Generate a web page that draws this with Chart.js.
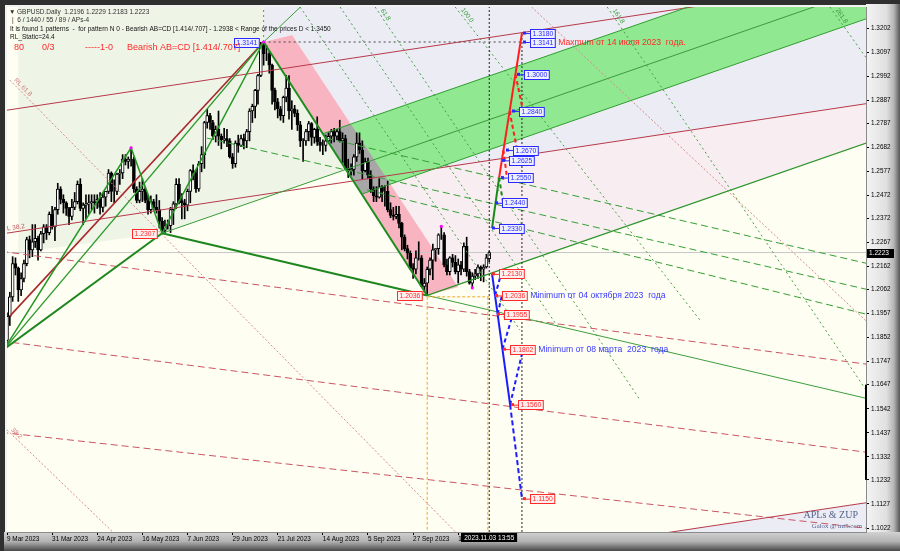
<!DOCTYPE html>
<html>
<head>
<meta charset="utf-8">
<script src="https://cdn.jsdelivr.net/npm/chart.js@4.4.1/dist/chart.umd.min.js"></script>
<style>
  html, body { margin: 0; padding: 0; background: #303030; }
  #wrap { width: 900px; height: 551px; }
</style>
</head>
<body>
<div id="wrap"><canvas id="chart" width="900" height="551"></canvas></div>
<script>
const FONT = "'Liberation Sans', Arial, sans-serif";

// GBPUSD daily bars, 9 Mar 2023 .. 3 Nov 2023 (bar index 0..171)
const OPEN = [
  1.1840,1.1945,1.2030,1.2175,1.2155,1.2060,1.2110,1.2175,1.2280,1.2235,
  1.2270,1.2285,1.2235,1.2305,1.2335,1.2310,1.2390,1.2335,1.2410,1.2500,
  1.2455,1.2440,1.2415,1.2380,1.2420,1.2445,1.2520,1.2415,1.2430,1.2435,
  1.2440,1.2445,1.2440,1.2455,1.2420,1.2465,1.2490,1.2570,1.2490,1.2490,
  1.2565,1.2570,1.2630,1.2620,1.2630,1.2630,1.2500,1.2450,1.2490,1.2500,
  1.2450,1.2410,1.2445,1.2420,1.2410,1.2360,1.2320,1.2340,1.2340,1.2410,
  1.2435,1.2520,1.2450,1.2440,1.2430,1.2490,1.2580,1.2570,1.2500,1.2610,
  1.2650,1.2790,1.2820,1.2790,1.2730,1.2760,1.2730,1.2715,1.2720,1.2710,
  1.2640,1.2610,1.2700,1.2690,1.2720,1.2710,1.2750,1.2840,1.2860,1.2930,
  1.2995,1.3130,1.3090,1.3090,1.3040,1.2930,1.2880,1.2850,1.2820,1.2900,
  1.2940,1.2840,1.2850,1.2830,1.2780,1.2710,1.2710,1.2750,1.2785,1.2725,
  1.2760,1.2705,1.2690,1.2690,1.2710,1.2730,1.2750,1.2730,1.2750,1.2710,
  1.2720,1.2590,1.2580,1.2585,1.2640,1.2700,1.2670,1.2580,1.2620,1.2560,
  1.2500,1.2470,1.2465,1.2510,1.2490,1.2490,1.2410,1.2385,1.2380,1.2390,
  1.2350,1.2290,1.2240,1.2220,1.2155,1.2150,1.2200,1.2200,1.2075,1.2090,
  1.2150,1.2190,1.2235,1.2240,1.2300,1.2300,1.2170,1.2140,1.2200,1.2180,
  1.2140,1.2170,1.2150,1.2250,1.2140,1.2090,1.2120,1.2130,1.2160,1.2150,
  1.2160,1.2196
];
const HIGH = [
  1.1960,1.2050,1.2205,1.2200,1.2160,1.2135,1.2190,1.2290,1.2295,1.2345,
  1.2345,1.2295,1.2315,1.2345,1.2345,1.2400,1.2425,1.2420,1.2525,1.2510,
  1.2475,1.2445,1.2420,1.2455,1.2485,1.2535,1.2545,1.2440,1.2475,1.2475,
  1.2475,1.2475,1.2475,1.2485,1.2485,1.2490,1.2585,1.2575,1.2540,1.2570,
  1.2585,1.2650,1.2650,1.2640,1.2680,1.2640,1.2510,1.2530,1.2545,1.2510,
  1.2475,1.2470,1.2455,1.2475,1.2450,1.2375,1.2365,1.2365,1.2420,1.2445,
  1.2545,1.2545,1.2480,1.2455,1.2500,1.2585,1.2605,1.2585,1.2620,1.2685,
  1.2795,1.2848,1.2830,1.2800,1.2775,1.2840,1.2740,1.2765,1.2760,1.2720,
  1.2655,1.2710,1.2735,1.2735,1.2740,1.2760,1.2850,1.2870,1.2935,1.3000,
  1.3140,1.3141,1.3125,1.3100,1.3045,1.2940,1.2895,1.2860,1.2905,1.2995,
  1.2995,1.2885,1.2865,1.2845,1.2795,1.2720,1.2760,1.2795,1.2790,1.2765,
  1.2815,1.2725,1.2715,1.2735,1.2745,1.2760,1.2765,1.2760,1.2800,1.2745,
  1.2735,1.2630,1.2610,1.2650,1.2745,1.2745,1.2710,1.2635,1.2635,1.2580,
  1.2510,1.2510,1.2545,1.2515,1.2515,1.2535,1.2440,1.2420,1.2425,1.2425,
  1.2355,1.2300,1.2255,1.2230,1.2175,1.2230,1.2270,1.2210,1.2110,1.2160,
  1.2200,1.2260,1.2240,1.2305,1.2337,1.2310,1.2195,1.2205,1.2215,1.2210,
  1.2195,1.2185,1.2265,1.2290,1.2150,1.2135,1.2150,1.2170,1.2165,1.2170,
  1.2215,1.2229
];
const LOW = [
  1.1830,1.1905,1.2010,1.2125,1.2010,1.2035,1.2095,1.2165,1.2200,1.2205,
  1.2245,1.2190,1.2230,1.2265,1.2280,1.2300,1.2325,1.2275,1.2390,1.2435,
  1.2395,1.2385,1.2345,1.2365,1.2410,1.2435,1.2405,1.2345,1.2370,1.2390,
  1.2410,1.2395,1.2415,1.2390,1.2400,1.2425,1.2480,1.2445,1.2440,1.2475,
  1.2520,1.2545,1.2605,1.2590,1.2600,1.2485,1.2440,1.2440,1.2445,1.2440,
  1.2390,1.2395,1.2410,1.2395,1.2330,1.2307,1.2310,1.2325,1.2310,1.2345,
  1.2415,1.2435,1.2370,1.2370,1.2405,1.2440,1.2540,1.2485,1.2490,1.2575,
  1.2590,1.2765,1.2760,1.2715,1.2705,1.2690,1.2675,1.2700,1.2685,1.2635,
  1.2590,1.2595,1.2660,1.2685,1.2675,1.2680,1.2710,1.2790,1.2810,1.2870,
  1.2990,1.3040,1.3060,1.3005,1.2870,1.2845,1.2810,1.2800,1.2790,1.2880,
  1.2805,1.2760,1.2815,1.2755,1.2685,1.2620,1.2690,1.2710,1.2690,1.2700,
  1.2690,1.2665,1.2650,1.2665,1.2705,1.2700,1.2705,1.2715,1.2705,1.2615,
  1.2585,1.2550,1.2560,1.2560,1.2620,1.2655,1.2545,1.2575,1.2545,1.2485,
  1.2445,1.2445,1.2460,1.2445,1.2425,1.2400,1.2375,1.2365,1.2370,1.2330,
  1.2235,1.2230,1.2195,1.2150,1.2110,1.2130,1.2190,1.2075,1.2050,1.2036,
  1.2125,1.2105,1.2185,1.2215,1.2280,1.2160,1.2125,1.2125,1.2160,1.2130,
  1.2090,1.2125,1.2140,1.2120,1.2085,1.2069,1.2105,1.2110,1.2100,1.2095,
  1.2155,1.2183
];
const CLOSE = [
  1.1945,1.2030,1.2175,1.2155,1.2060,1.2110,1.2175,1.2280,1.2235,1.2270,
  1.2285,1.2235,1.2305,1.2335,1.2310,1.2390,1.2335,1.2410,1.2500,1.2455,
  1.2440,1.2415,1.2380,1.2420,1.2445,1.2520,1.2415,1.2430,1.2435,1.2440,
  1.2445,1.2440,1.2455,1.2420,1.2465,1.2490,1.2570,1.2490,1.2490,1.2565,
  1.2570,1.2630,1.2620,1.2630,1.2630,1.2500,1.2450,1.2490,1.2500,1.2450,
  1.2410,1.2445,1.2420,1.2410,1.2360,1.2320,1.2340,1.2340,1.2410,1.2435,
  1.2520,1.2450,1.2440,1.2430,1.2490,1.2580,1.2570,1.2500,1.2610,1.2650,
  1.2790,1.2820,1.2790,1.2730,1.2760,1.2730,1.2715,1.2720,1.2710,1.2640,
  1.2610,1.2700,1.2690,1.2720,1.2710,1.2750,1.2840,1.2860,1.2930,1.2995,
  1.3130,1.3090,1.3090,1.3040,1.2930,1.2880,1.2850,1.2820,1.2900,1.2940,
  1.2840,1.2850,1.2830,1.2780,1.2710,1.2710,1.2750,1.2785,1.2725,1.2760,
  1.2705,1.2690,1.2690,1.2710,1.2730,1.2750,1.2730,1.2750,1.2710,1.2720,
  1.2590,1.2580,1.2585,1.2640,1.2700,1.2670,1.2580,1.2620,1.2560,1.2500,
  1.2470,1.2465,1.2510,1.2490,1.2490,1.2410,1.2385,1.2380,1.2390,1.2350,
  1.2290,1.2240,1.2220,1.2155,1.2150,1.2200,1.2200,1.2075,1.2090,1.2150,
  1.2190,1.2235,1.2240,1.2300,1.2300,1.2170,1.2140,1.2200,1.2180,1.2140,
  1.2170,1.2150,1.2250,1.2140,1.2090,1.2120,1.2130,1.2160,1.2150,1.2160,
  1.2200,1.2223
];

const X_TICK_BARS = [0, 16, 32, 48, 64, 80, 96, 112, 128, 144, 160];
const X_TICK_LABELS = ['9 Mar 2023', '31 Mar 2023', '24 Apr 2023', '16 May 2023', '7 Jun 2023',
  '29 Jun 2023', '21 Jul 2023', '14 Aug 2023', '5 Sep 2023', '27 Sep 2023', '19 Oct 2023'];
const Y_TICKS = [1.3202, 1.3097, 1.2992, 1.2887, 1.2787, 1.2682, 1.2577, 1.2472, 1.2372, 1.2267,
  1.2162, 1.2062, 1.1957, 1.1852, 1.1747, 1.1647, 1.1542, 1.1437, 1.1332, 1.1232, 1.1127, 1.1022];
const NOW_BAR = 171;
const NOW_TIME = '2023.11.03 13:55';

// pattern X A B C D as [bar, price]
const PATTERN = [[-1, 1.1802], [44, 1.2680], [55, 1.2307], [91, 1.3141], [149, 1.2036]];
const PATTERN_MARKS = [[44, 1.2680], [91, 1.3141], [154, 1.2337], [165, 1.2069]];

// helper lines of the pattern, [bar, price] endpoints
const LINE_XB = [[-1, 1.1802], [55, 1.2307]];
const LINE_XC = [[-1, 1.1802], [91, 1.3141]];
const LINE_BD = [[55, 1.2307], [149, 1.2036]];
const LINE_BD_EXT = [[149, 1.2036], [310, 1.1572]];
const LINE_B_RISE = [[55, 1.2307], [310, 1.3396]];
const LINE_D_RISE = [[149, 1.2036], [310, 1.2723]];
const LINE_C_FAN = [[91, 1.3141], [108, 1.3340]];
const BAND_UPPER = [[112, 1.2741], [310, 1.3586]];
const BAND_LOWER = [[125.8, 1.2478], [310, 1.3265]];
const SL_LINES = [
  [[-2, 1.2304], [310, 1.2882]],
  [[-2, 1.2840], [310, 1.3418]],
  [[225, 1.0985], [310, 1.1142]]
];
const SL_STEEP = [[1, 1.1946], [91, 1.3141]];
const RL_DASHED = [
  [[-2, 1.2228], [310, 1.1728]],
  [[-2, 1.1837], [310, 1.1344]],
  [[-2, 1.1439], [310, 1.1014]]
];
const RL_DOTTED = [
  [[1, 1.2975], [165, 1.0930]],
  [[0, 1.1450], [40, 1.0975]],
  [[184, 1.3317], [310, 1.1863]]
];
const GREEN_DASHED = [
  [[113.1, 1.2722], [310, 1.2161]],
  [[70.9, 1.2722], [310, 1.2048]],
  [[127.7, 1.2496], [310, 1.1938]]
];
const GREEN_DOTTED = [
  [[91, 1.3141], [91, 1.3400]],
  [[103.9, 1.3294], [181.9, 1.1885]],
  [[118.1, 1.3294], [196.1, 1.1885]],
  [[130.5, 1.3294], [224.5, 1.1580]],
  [[158.9, 1.3294], [245.7, 1.1929]],
  [[212.8, 1.3294], [304.6, 1.1624]],
  [[291.8, 1.3294], [310, 1.2980]]
];
const GREEN_DOTTED_LABELS = ['', '', '', '61.8', '100.0', '161.8', '261.8'];

// shaded zones, polygons of [bar, price]
const ZONE_PALE_GREEN = [[4, 1.34], [91, 1.34], [91, 1.3141], [120.2, 1.2585], [55, 1.2307], [4, 1.2223]];
const ZONE_LAVENDER = [[91, 1.34], [310, 1.34], [310, 1.2882], [134.1, 1.2556], [101.1, 1.3171], [91, 1.3141]];
const ZONE_PINKISH = [[134.1, 1.2556], [310, 1.2882], [310, 1.2723], [159.6, 1.2081]];
const ZONE_LAVENDER_LOW = [[225, 1.0985], [310, 1.1142], [310, 1.09]];
const ZONE_GREEN_BAND = [[112, 1.2741], [310, 1.3586], [310, 1.3265], [125.8, 1.2478]];
const ZONE_PINK_BAND = [[91, 1.3141], [101.1, 1.3171], [160, 1.2073], [149, 1.2036]];
const ZONE_OVERLAP = [[112, 1.2741], [121.9, 1.2784], [136, 1.2521], [125.8, 1.2478]];

// projection to the right of the last bar
const TARGET_BAR = 182.6;
const UP_GREEN = [[172, 1.2330], [174.5, 1.2550]];
const UP_RED = [[174.5, 1.2550], [182.6, 1.3180]];
const UP_GREEN_BACK = [[174.5, 1.2550], [175.9, 1.2440]];
const UP_RED_BACK = [
  [[176.0, 1.2670], [177.3, 1.2550]],
  [[178.2, 1.2840], [180.9, 1.2670]],
  [[180.3, 1.3000], [183.0, 1.2840]]
];
const DOWN_SOLID = [[172, 1.2130], [178.4, 1.1560]];
const DOWN_DASH = [[178.4, 1.1560], [182.6, 1.1150]];
const DOWN_BACK = [
  [[173.1, 1.2036], [175.2, 1.2130]],
  [[174.0, 1.1955], [175.5, 1.2036]],
  [[175.7, 1.1802], [179.4, 1.1955]],
  [[178.4, 1.1560], [183.0, 1.1802]]
];
const UP_LEVELS = [1.3180, 1.3141, 1.3000, 1.2840, 1.2670, 1.2625, 1.2550, 1.2440, 1.2330];
const UP_LABEL_BARS = [183.3, 183.3, 181.2, 179.4, 177.3, 175.9, 175.5, 173.4, 172.3];
const DOWN_LEVELS = [1.2130, 1.2036, 1.1955, 1.1802, 1.1560, 1.1150];
const DOWN_LABEL_BARS = [172.3, 173.4, 174.1, 176.2, 179.1, 183.3];
const NOTE_MAX = 'Maxmum от 14 июля 2023  года.';
const NOTE_MIN_OCT = 'Minimum от 04 октября 2023  года';
const NOTE_MIN_MAR = 'Minimum от 08 марта  2023  года';

// ---------- datasets ----------
const pts = arr => arr.map(p => ({ x: p[0], y: p[1] }));

function seg(arr, color, width, dash, order) {
  return {
    type: 'line', data: pts(arr), borderColor: color, borderWidth: width,
    borderDash: dash || [], pointRadius: 0, fill: false, tension: 0, order: order || 40
  };
}
function zone(arr, color, order) {
  return {
    type: 'line', data: pts(arr), borderColor: 'rgba(0,0,0,0)', borderWidth: 1,
    backgroundColor: color, pointRadius: 0, fill: 'shape', tension: 0, order: order
  };
}

const datasets = [];
datasets.push(zone(ZONE_PALE_GREEN, '#eef5e6', 120));
datasets.push(zone(ZONE_LAVENDER, '#ececf5', 119));
datasets.push(zone(ZONE_PINKISH, '#f8eef2', 118));
datasets.push(zone(ZONE_LAVENDER_LOW, '#ececf5', 117));
datasets.push(zone(ZONE_GREEN_BAND, '#90e890', 116));
datasets.push(zone(ZONE_PINK_BAND, '#f8b5c1', 115));
datasets.push(zone(ZONE_OVERLAP, '#a7a7a7', 114));

// current price line
datasets.push(seg([[-2, CLOSE[NOW_BAR]], [310, CLOSE[NOW_BAR]]], '#c8c8c8', 1, [], 110));

// candles
const bodies = OPEN.map((o, i) => ({ x: i, y: [o, CLOSE[i]] }));
const wicks = LOW.map((l, i) => ({ x: i, y: [l, HIGH[i]] }));
datasets.push({
  type: 'bar', data: wicks, backgroundColor: '#000', barThickness: 1,
  grouped: false, order: 61
});
datasets.push({
  type: 'bar', data: bodies, grouped: false, barThickness: 3,
  backgroundColor: OPEN.map((o, i) => CLOSE[i] >= o ? '#ffffff' : '#000000'),
  borderColor: '#000', borderWidth: 1, borderSkipped: false, order: 60
});

// fan / reference lines
RL_DASHED.forEach(l => datasets.push(seg(l, '#cc5563', 1, [7, 4], 50)));
RL_DOTTED.forEach(l => datasets.push(seg(l, '#d88a8a', 1, [2, 2], 50)));
GREEN_DASHED.forEach(l => datasets.push(seg(l, '#35a035', 1, [7, 4], 50)));
GREEN_DOTTED.forEach(l => datasets.push(seg(l, '#45a045', 1, [2, 3], 50)));
SL_LINES.forEach(l => datasets.push(seg(l, '#b8394a', 1, [], 48)));
datasets.push(seg(SL_STEEP, '#a8282e', 1.6, [], 47));

// channel & pattern lines
datasets.push(seg(BAND_UPPER, '#2f9e2f', 1, [], 45));
datasets.push(seg(BAND_LOWER, '#2f9e2f', 1, [], 45));
datasets.push(seg(LINE_B_RISE, '#3a9c3a', 1, [], 45));
datasets.push(seg(LINE_D_RISE, '#2a942a', 1.2, [], 45));
datasets.push(seg(LINE_BD_EXT, '#3f9f3f', 1, [], 45));
datasets.push(seg(LINE_C_FAN, '#3a9c3a', 1, [], 45));
datasets.push(seg(LINE_XC, '#2c9a2c', 1.2, [], 44));
datasets.push(seg(LINE_XB, '#1e861e', 2, [], 43));
datasets.push(seg(LINE_BD, '#1e861e', 2, [], 43));
datasets.push(seg(PATTERN.slice(0, 4), '#239623', 1.5, [], 42));
datasets.push(seg(PATTERN.slice(3), '#1e8c1e', 2, [], 42));

// time / level markers
datasets.push(seg([[91, 1.3141], [TARGET_BAR, 1.3141]], '#444', 1, [2, 3], 35));
datasets.push(seg([[NOW_BAR, 1.09], [NOW_BAR, 1.34]], '#222', 1, [2, 2], 35));
datasets.push(seg([[TARGET_BAR, 1.09], [TARGET_BAR, 1.3180]], '#222', 1, [2, 2], 35));
datasets.push(seg([[149, 1.2030], [149, 1.09]], '#f5a623', 1, [3, 2], 35));
datasets.push(seg([[149, 1.2030], [NOW_BAR, 1.2030]], '#f5a623', 1, [3, 2], 35));
datasets.push(seg([[NOW_BAR - 0.5, 1.2030], [NOW_BAR - 0.5, 1.09]], '#f5a623', 1, [3, 2], 35));

// projection
datasets.push(seg(UP_GREEN, '#1a8a1a', 2, [], 20));
datasets.push(seg(UP_GREEN_BACK, '#1a8a1a', 2, [4, 3], 21));
datasets.push(seg(UP_RED, '#ff1e1e', 2, [], 20));
UP_RED_BACK.forEach(l => datasets.push(seg(l, '#ff1e1e', 2, [4, 3], 21)));
datasets.push(seg(DOWN_SOLID, '#1c1cff', 2, [], 20));
datasets.push(seg(DOWN_DASH, '#1c1cff', 2, [5, 3], 20));
DOWN_BACK.forEach(l => datasets.push(seg(l, '#1c1cff', 2, [4, 3], 21)));

datasets.push({
  type: 'scatter', data: pts(PATTERN_MARKS), pointRadius: 1.6, pointBackgroundColor: '#ff00ff',
  pointBorderWidth: 0, order: 15
});

// ---------- drawing helpers ----------
function priceBox(ctx, ax, y, text, color, fill) {
  ctx.font = '6.8px ' + FONT;
  const w = ctx.measureText(text).width + 4;
  ctx.strokeStyle = color; ctx.fillStyle = color; ctx.lineWidth = 1;
  ctx.fillRect(ax - 1, y - 1.5, 3, 3);
  ctx.beginPath(); ctx.moveTo(ax, y + 0.5); ctx.lineTo(ax + 6, y + 0.5); ctx.stroke();
  const bx = Math.round(ax + 6) + 0.5, by = Math.round(y - 4.5) + 0.5;
  ctx.fillStyle = fill; ctx.fillRect(bx, by, w, 9);
  ctx.strokeRect(bx, by, w, 9);
  ctx.fillStyle = color; ctx.textBaseline = 'middle'; ctx.textAlign = 'left';
  ctx.fillText(text, bx + 2, by + 5);
  return bx + w;
}
function pointBox(ctx, px, y, text, color, fill) {
  ctx.font = '6.8px ' + FONT;
  const w = ctx.measureText(text).width + 4;
  const bx = Math.round(px - 5 - w) + 0.5, by = Math.round(y - 4.5) + 0.5;
  ctx.fillStyle = fill; ctx.fillRect(bx, by, w, 9);
  ctx.strokeStyle = color; ctx.lineWidth = 1; ctx.strokeRect(bx, by, w, 9);
  ctx.fillStyle = color; ctx.textBaseline = 'middle'; ctx.textAlign = 'left';
  ctx.fillText(text, bx + 2, by + 5);
}
function textAlong(chart, line, text, color, size, off) {
  const ctx = chart.ctx, x = chart.scales.x, y = chart.scales.y;
  const x0 = x.getPixelForValue(line[0][0]), y0 = y.getPixelForValue(line[0][1]);
  const x1 = x.getPixelForValue(line[1][0]), y1 = y.getPixelForValue(line[1][1]);
  const a = Math.atan2(y1 - y0, x1 - x0);
  ctx.save();
  ctx.translate(x0 + Math.cos(a) * off, y0 + Math.sin(a) * off);
  ctx.rotate(a);
  ctx.font = size + 'px ' + FONT; ctx.fillStyle = color;
  ctx.textAlign = 'left'; ctx.textBaseline = 'bottom';
  ctx.fillText(text, 0, -1);
  ctx.restore();
}

const framePlugin = {
  id: 'frame',
  beforeDraw(chart) {
    const ctx = chart.ctx, a = chart.chartArea, W = chart.width, H = chart.height;
    ctx.save();
    ctx.fillStyle = '#2f2f2f'; ctx.fillRect(0, 0, W, H);
    let g = ctx.createLinearGradient(a.right, 0, W, 0);
    g.addColorStop(0, '#f4f4f4'); g.addColorStop(0.6, '#e0e0e0');
    g.addColorStop(0.82, '#b4b4b4'); g.addColorStop(1, '#555');
    ctx.fillStyle = g; ctx.fillRect(a.right, 4, W - a.right, H - 4);
    g = ctx.createLinearGradient(0, a.bottom, 0, H);
    g.addColorStop(0, '#d2d2d2'); g.addColorStop(0.5, '#b2b2b2'); g.addColorStop(1, '#484848');
    ctx.fillStyle = g; ctx.fillRect(4, a.bottom, W - 4, H - a.bottom);
    ctx.fillStyle = '#f2f2f2'; ctx.fillRect(a.left - 2, a.top - 2, a.right - a.left + 2, 2);
    ctx.fillRect(a.left - 2, a.top - 2, 2, a.bottom - a.top + 2);
    ctx.fillStyle = '#fefef2';
    ctx.fillRect(a.left, a.top, a.right - a.left, a.bottom - a.top);
    ctx.restore();
  },
  afterDraw(chart) {
    const ctx = chart.ctx, a = chart.chartArea, xs = chart.scales.x, ys = chart.scales.y;
    const X = v => xs.getPixelForValue(v), Y = v => ys.getPixelForValue(v);
    ctx.save();
    ctx.beginPath(); ctx.rect(a.left, a.top, a.right - a.left, a.bottom - a.top); ctx.clip();

    // labels along the fan lines
    textAlong(chart, SL_LINES[0], 'SL 38.2', '#c04a55', 6.5, 2);
    textAlong(chart, RL_DOTTED[0], 'RL 61.8', '#d07a7a', 6.5, 3);
    textAlong(chart, RL_DOTTED[1], '38.2', '#d07a7a', 6.5, 3);
    GREEN_DOTTED.forEach((l, i) => {
      if (GREEN_DOTTED_LABELS[i]) textAlong(chart, l, GREEN_DOTTED_LABELS[i], '#3c9c3c', 6.5, 6);
    });

    // pattern point boxes
    pointBox(ctx, X(PATTERN[3][0]), Y(PATTERN[3][1]), PATTERN[3][1].toFixed(4), '#2a2aff', '#eef0ff');
    pointBox(ctx, X(PATTERN[2][0]), Y(PATTERN[2][1]), PATTERN[2][1].toFixed(4), '#ff2a2a', '#fff0f0');
    pointBox(ctx, X(PATTERN[4][0]), Y(PATTERN[4][1]), PATTERN[4][1].toFixed(4), '#ff2a2a', '#fff0f0');

    // projection boxes and notes
    const upRight = UP_LEVELS.map((p, i) => priceBox(ctx, X(UP_LABEL_BARS[i]), Y(p), p.toFixed(4), '#2a2aff', '#eef0ff'));
    const dnRight = DOWN_LEVELS.map((p, i) => priceBox(ctx, X(DOWN_LABEL_BARS[i]), Y(p), p.toFixed(4), '#ff2a2a', '#fff0f0'));
    ctx.textBaseline = 'middle'; ctx.textAlign = 'left';
    ctx.font = '8.6px ' + FONT;
    ctx.fillStyle = '#ff2a2a'; ctx.fillText(NOTE_MAX, upRight[1] + 3, Y(UP_LEVELS[1]) + 0.5);
    ctx.fillStyle = '#3a3aff';
    ctx.fillText(NOTE_MIN_OCT, dnRight[1] + 3, Y(DOWN_LEVELS[1]) + 0.5);
    ctx.fillText(NOTE_MIN_MAR, dnRight[3] + 3, Y(DOWN_LEVELS[3]) + 0.5);

    // header
    const n = OPEN.length - 1;
    ctx.fillStyle = '#333'; ctx.font = '6.5px ' + FONT; ctx.textBaseline = 'middle';
    ctx.fillText('▼', 9, 12);
    ctx.fillText('GBPUSD.Daily  ' + [OPEN[n], HIGH[n], LOW[n], CLOSE[n]].map(v => v.toFixed(4)).join(' '), 17, 12);
    ctx.fillText('|  6 / 1440 / 55 / 89 / APs-4', 12, 20.5);
    ctx.fillStyle = '#111';
    ctx.fillText('It is found 1 patterns  -  for pattern N 0 - Bearish AB=CD [1.414/.707] - 1.2938 < Range of the prices D < 1.3450', 10, 29.5);
    ctx.fillText('RL_Static=24.4', 10, 37.5);
    ctx.fillStyle = '#ff2a2a'; ctx.font = '9px ' + FONT;
    ctx.fillText('80', 14, 48); ctx.fillText('0/3', 42, 48);
    ctx.fillText('-----1-0', 85, 48); ctx.fillText('Bearish AB=CD [1.414/.707]', 127, 48);

    // signature
    ctx.textAlign = 'right'; ctx.fillStyle = '#53648c';
    ctx.font = "10px 'Liberation Serif', 'DejaVu Serif', serif";
    ctx.fillText('APLs & ZUP', 858, 515);
    ctx.font = "6.8px 'Liberation Serif', 'DejaVu Serif', serif";
    ctx.fillText('Galox @ mt5.com', 862, 526);
    ctx.restore();

    // last price marker and cursor time box
    ctx.save();
    ctx.font = '6.5px ' + FONT; ctx.textBaseline = 'middle'; ctx.textAlign = 'left';
    const py = Y(CLOSE[n]);
    ctx.fillStyle = '#000'; ctx.fillRect(a.right + 1, Math.round(py) - 4, 27, 9);
    ctx.fillStyle = '#fff'; ctx.fillText(CLOSE[n].toFixed(4), a.right + 3, Math.round(py) + 0.5);
    ctx.fillStyle = '#000'; ctx.fillRect(a.right - 1, Y(1.1647), 2, Y(1.1232) - Y(1.1647));
    const tw = ctx.measureText(NOW_TIME).width + 6, tx = X(NOW_BAR);
    ctx.fillStyle = '#000'; ctx.fillRect(Math.round(tx - tw / 2), a.bottom + 1, tw, 9);
    ctx.fillStyle = '#fff'; ctx.textAlign = 'center';
    ctx.fillText(NOW_TIME, tx, a.bottom + 6);
    ctx.restore();
  }
};

new Chart(document.getElementById('chart'), {
  data: { datasets },
  options: {
    responsive: false, animation: false, devicePixelRatio: 1, events: [],
    layout: { padding: { left: 7, top: 7, right: 0, bottom: 0 } },
    plugins: { legend: { display: false }, tooltip: { enabled: false } },
    scales: {
      x: {
        type: 'linear', position: 'bottom', min: 0, max: 304.6, offset: false,
        grid: { drawOnChartArea: false, drawTicks: true, tickLength: 3, color: '#000', offset: false },
        border: { display: true, color: '#8a8a8a' },
        ticks: {
          autoSkip: false, maxRotation: 0, align: 'start', padding: 0, color: '#000',
          font: { family: FONT, size: 6.4 },
          callback: v => X_TICK_LABELS[X_TICK_BARS.indexOf(v)] || ''
        },
        afterBuildTicks: s => { s.ticks = X_TICK_BARS.map(v => ({ value: v })); },
        afterFit: s => { s.height = 19; s.paddingLeft = 0; s.paddingRight = 0; }
      },
      y: {
        type: 'linear', position: 'right', min: 1.10046, max: 1.32936,
        grid: { drawOnChartArea: false, drawTicks: true, tickLength: 3, color: '#000' },
        border: { display: true, color: '#8a8a8a' },
        ticks: {
          autoSkip: false, padding: 2, color: '#000',
          font: { family: FONT, size: 6.4 },
          callback: v => v.toFixed(4)
        },
        afterBuildTicks: s => { s.ticks = Y_TICKS.map(v => ({ value: v })); },
        afterFit: s => { s.width = 34; s.paddingTop = 0; s.paddingBottom = 0; }
      }
    }
  },
  plugins: [framePlugin]
});
</script>
</body>
</html>
